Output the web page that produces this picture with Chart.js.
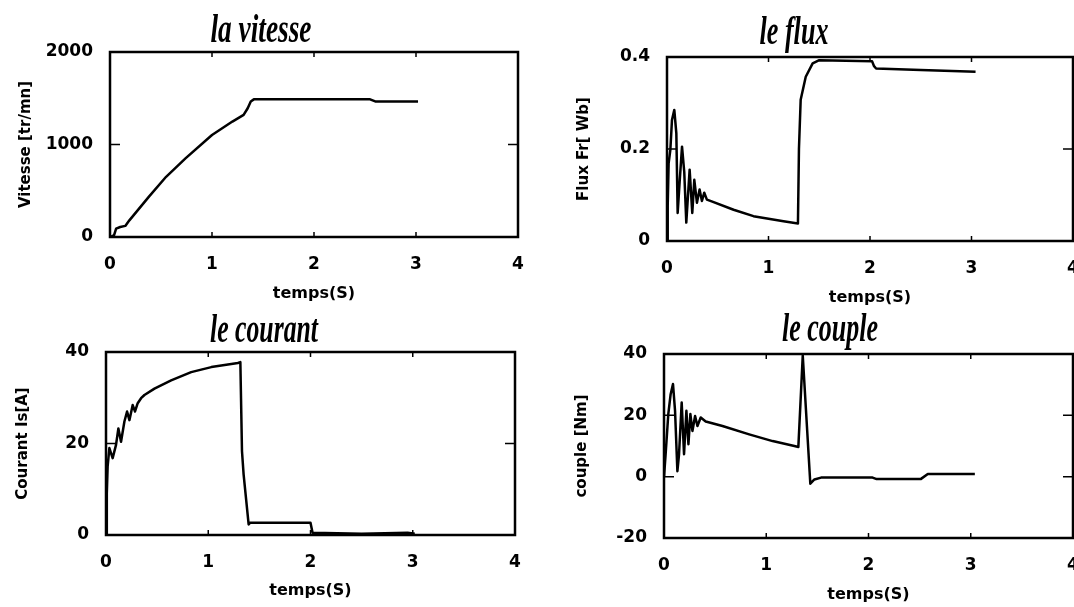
<!DOCTYPE html>
<html>
<head>
<meta charset="utf-8">
<title>Simulation du moteur</title>
<script src="https://cdn.jsdelivr.net/npm/chart.js@4.4.1/dist/chart.umd.min.js"></script>
<style>
  html, body { margin: 0; padding: 0; background: #fff; }
  #page { position: relative; width: 1074px; height: 607px; overflow: hidden; background: #fff; }
  #page canvas { position: absolute; left: 0; top: 0; }
</style>
</head>
<body>
<div id="page">
  <canvas id="cVitesse" width="1074" height="607"></canvas>
  <canvas id="cFlux" width="1074" height="607"></canvas>
  <canvas id="cCourant" width="1074" height="607"></canvas>
  <canvas id="cCouple" width="1074" height="607"></canvas>
</div>
<script>
// DONNEES
var gradTemps = [0, 1, 2, 3, 4];

var tempsVitesse = [0, 0.04, 0.06, 0.10, 0.15, 0.19, 0.38, 0.55, 0.74, 1.00, 1.20, 1.31, 1.35, 1.38, 1.41, 2.55, 2.60, 3.02];
var vitesse      = [0, 20, 90, 108, 120, 180, 434, 651, 850, 1103, 1248, 1320, 1392, 1465, 1488, 1488, 1466, 1466];
var gradVitesse  = [0, 1000, 2000];

var tempsFlux = [0, 0.007, 0.016, 0.033, 0.049, 0.072, 0.092, 0.105, 0.125, 0.148, 0.17, 0.19, 0.223, 0.249, 0.269, 0.295, 0.321, 0.344, 0.367, 0.393, 0.44, 0.656, 0.852, 1.148, 1.29, 1.30, 1.317, 1.367, 1.435, 1.50, 2.02, 2.04, 2.06, 2.5, 3.04];
var flux      = [0, 0.076, 0.169, 0.198, 0.263, 0.285, 0.234, 0.061, 0.13, 0.205, 0.15, 0.040, 0.155, 0.061, 0.133, 0.083, 0.112, 0.087, 0.105, 0.090, 0.086, 0.068, 0.054, 0.043, 0.038, 0.20, 0.307, 0.357, 0.386, 0.393, 0.391, 0.38, 0.375, 0.372, 0.368];
var gradFlux  = [0, 0.2, 0.4];

var tempsCourant = [0, 0.008, 0.016, 0.033, 0.065, 0.098, 0.121, 0.147, 0.18, 0.206, 0.229, 0.261, 0.284, 0.31, 0.343, 0.376, 0.474, 0.637, 0.833, 1.03, 1.29, 1.314, 1.33, 1.346, 1.395, 1.41, 2.0, 2.02, 2.5, 2.95, 3.02];
var courant      = [0, 9, 15, 19, 16.8, 19.7, 23.3, 20.4, 24.8, 27, 25.1, 28.4, 27, 28.8, 29.9, 30.6, 32, 33.8, 35.6, 36.7, 37.6, 37.8, 18.3, 13.2, 2.3, 2.7, 2.7, 0.5, 0.3, 0.5, 0.3];
var gradCourant  = [0, 20, 40];

var tempsCouple = [0, 0.016, 0.042, 0.065, 0.088, 0.108, 0.131, 0.147, 0.173, 0.196, 0.219, 0.239, 0.258, 0.278, 0.304, 0.327, 0.359, 0.408, 0.572, 0.833, 1.062, 1.275, 1.314, 1.357, 1.431, 1.471, 1.536, 2.04, 2.08, 2.51, 2.58, 3.04];
var couple      = [0, 7.3, 20.4, 26.9, 30.2, 21.5, 1.8, 7.3, 24.2, 7.3, 21.5, 10.6, 20.4, 14.9, 19.8, 16.5, 19.3, 18, 16.5, 13.8, 11.6, 10, 9.7, 39.5, -2.3, -0.9, -0.3, -0.3, -0.8, -0.8, 0.9, 0.9];
var gradCouple  = [-20, 0, 20, 40];

var policeGrad = { family: 'DejaVu Sans', size: 17, weight: 'bold', lineHeight: 1.2 };
var policeAxe  = { family: 'DejaVu Sans', size: 15, weight: 'bold', lineHeight: 1 };

// cadre, petites graduations vers l'interieur et titre en italique serre
var cadre = {
  id: 'cadre',
  afterDraw: function(chart, args, opts) {
    var ctx = chart.ctx, a = chart.chartArea;
    var sx = chart.scales.x, sy = chart.scales.y;
    ctx.save();
    ctx.strokeStyle = '#000';
    ctx.lineWidth = 1.5;
    ctx.beginPath();
    sx.ticks.forEach(function(t) {
      var px = sx.getPixelForValue(t.value);
      ctx.moveTo(px, a.top); ctx.lineTo(px, a.top + 5);
      ctx.moveTo(px, a.bottom); ctx.lineTo(px, a.bottom - 5);
    });
    sy.ticks.forEach(function(t) {
      var py = sy.getPixelForValue(t.value);
      ctx.moveTo(a.left, py); ctx.lineTo(a.left + 10, py);
      ctx.moveTo(a.right, py); ctx.lineTo(a.right - 10, py);
    });
    ctx.stroke();
    ctx.lineWidth = 2.5;
    ctx.strokeRect(a.left, a.top, a.right - a.left, a.bottom - a.top);

    ctx.fillStyle = '#000';
    ctx.font = 'italic bold 41px "Liberation Serif"';
    ctx.textAlign = 'center';
    ctx.textBaseline = 'alphabetic';
    var largeur = ctx.measureText(opts.texte).width;
    ctx.translate(opts.cx, opts.by);
    ctx.scale(opts.largeur / largeur, 1);
    ctx.fillText(opts.texte, 0, 0);
    ctx.restore();
  }
};

function creerGraphe(id, temps, valeurs, grad, cfg) {
  var points = temps.map(function(t, i) { return { x: t, y: valeurs[i] }; });
  return new Chart(document.getElementById(id), {
    type: 'line',
    data: {
      datasets: [{
        data: points,
        borderColor: '#000',
        borderWidth: 2.5,
        borderJoinStyle: 'round',
        pointRadius: 0,
        tension: 0,
        fill: false
      }]
    },
    options: {
      responsive: false,
      animation: false,
      devicePixelRatio: 1,
      layout: { padding: cfg.marges },
      plugins: {
        legend: { display: false },
        tooltip: { enabled: false },
        cadre: cfg.titre
      },
      scales: {
        x: {
          type: 'linear', min: 0, max: 4,
          afterBuildTicks: function(s) { s.ticks = gradTemps.map(function(v) { return { value: v }; }); },
          afterFit: function(s) { s.height = cfg.hautX; s.paddingLeft = 0; s.paddingRight = 0; },
          grid: { display: false },
          border: { display: false },
          ticks: { padding: 9, color: '#000', font: policeGrad, maxRotation: 0, autoSkip: false,
                   callback: function(v) { return String(v); } },
          title: { display: true, text: 'temps(S)', color: '#000', font: { family: 'DejaVu Sans', size: 16, weight: 'bold', lineHeight: 1 }, padding: 0 }
        },
        y: {
          type: 'linear', min: grad[0], max: grad[grad.length - 1],
          afterBuildTicks: function(s) { s.ticks = grad.map(function(v) { return { value: v }; }); },
          afterFit: function(s) { s.width = cfg.largY; s.paddingTop = 0; s.paddingBottom = 0; },
          grid: { display: false },
          border: { display: false },
          ticks: { padding: 9, color: '#000', font: policeGrad, autoSkip: false,
                   callback: function(v) { return String(v); } },
          title: { display: true, text: cfg.nomY, color: '#000', font: policeAxe, padding: 0 }
        }
      }
    },
    plugins: [cadre]
  });
}

creerGraphe('cVitesse', tempsVitesse, vitesse, gradVitesse, {
  nomY: 'Vitesse [tr/mn]',
  marges: { left: 18.5, top: 52, right: 556, bottom: 305.5 },
  largY: 91.5, hautX: 64.5,
  titre: { texte: 'la vitesse', cx: 261, by: 42, largeur: 101 }
});
creerGraphe('cFlux', tempsFlux, flux, gradFlux, {
  nomY: 'Flux Fr[ Wb]',
  marges: { left: 576.5, top: 57, right: 1, bottom: 301.5 },
  largY: 90.5, hautX: 64.5,
  titre: { texte: 'le flux', cx: 794, by: 44, largeur: 69 }
});
creerGraphe('cCourant', tempsCourant, courant, gradCourant, {
  nomY: 'Courant Is[A]',
  marges: { left: 15.7, top: 352, right: 559, bottom: 8.5 },
  largY: 90.3, hautX: 63.5,
  titre: { texte: 'le courant', cx: 264, by: 342, largeur: 108 }
});
creerGraphe('cCouple', tempsCouple, couple, gradCouple, {
  nomY: 'couple [Nm]',
  marges: { left: 574.7, top: 354, right: 1, bottom: 4.5 },
  largY: 89.3, hautX: 64.5,
  titre: { texte: 'le couple', cx: 830, by: 341, largeur: 96 }
});
</script>
</body>
</html>
